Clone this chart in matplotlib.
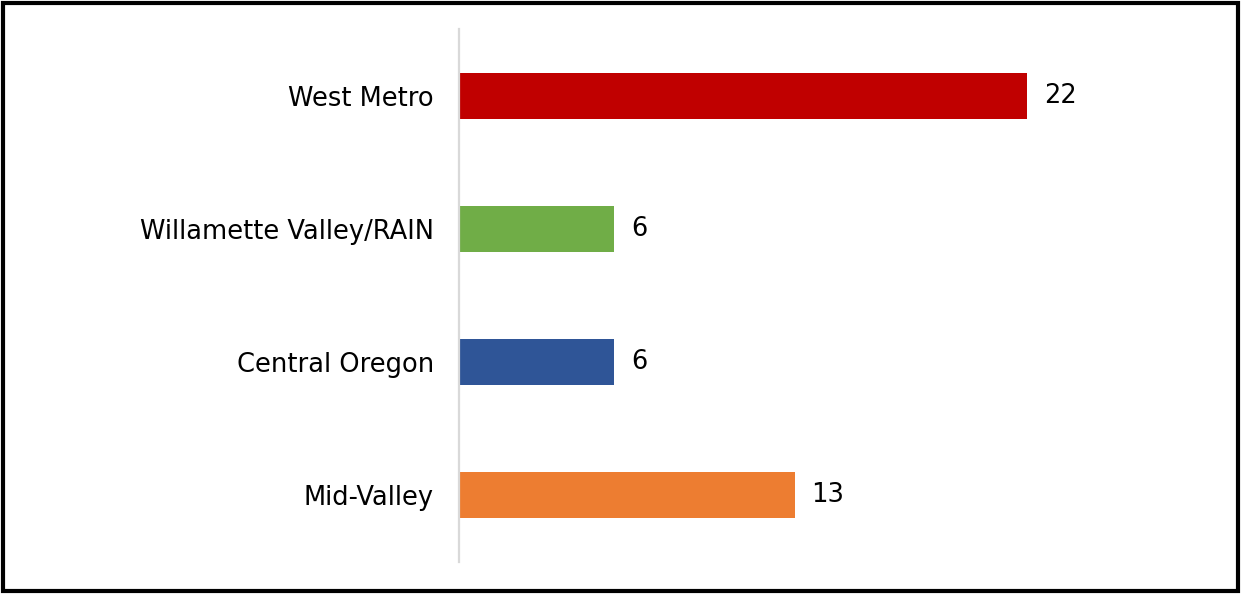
import matplotlib
matplotlib.use("Agg")
import matplotlib.pyplot as plt
from matplotlib.patches import Rectangle

# data, top to bottom as drawn
regions = ["West Metro", "Willamette Valley/RAIN", "Central Oregon", "Mid-Valley"]
counts = [22, 6, 6, 13]
colors = ["#C00000", "#70AD47", "#2F5597", "#ED7D31"]

fig = plt.figure(figsize=(12.41, 5.94), dpi=100)
ax = fig.add_axes([0.3699, 0.0539, 0.52, 0.8973])

y = list(range(len(regions)))
ax.barh(y, counts, height=0.345, color=colors)

for yi, v in zip(y, counts):
    ax.annotate(
        str(v),
        xy=(v, yi),
        xytext=(17, 0),
        textcoords="offset pixels",
        va="center",
        ha="left",
        fontsize=18.5,
        color="black",
    )

ax.set_xlim(0, 25)
ax.set_ylim(3.5, -0.5)
ax.set_yticks(y)
ax.set_yticklabels(regions, fontsize=18.5, color="black")
ax.tick_params(axis="y", length=0, pad=18)
ax.set_xticks([])

for side in ["top", "right", "bottom"]:
    ax.spines[side].set_visible(False)
ax.spines["left"].set_color("#D9D9D9")
ax.spines["left"].set_linewidth(1.6)

# black frame round the whole picture
fig.patches.append(
    Rectangle(
        (0.0025, 0.0045),
        0.995,
        0.991,
        transform=fig.transFigure,
        fill=False,
        edgecolor="black",
        linewidth=3,
    )
)

fig.savefig("out.png", dpi=100)
